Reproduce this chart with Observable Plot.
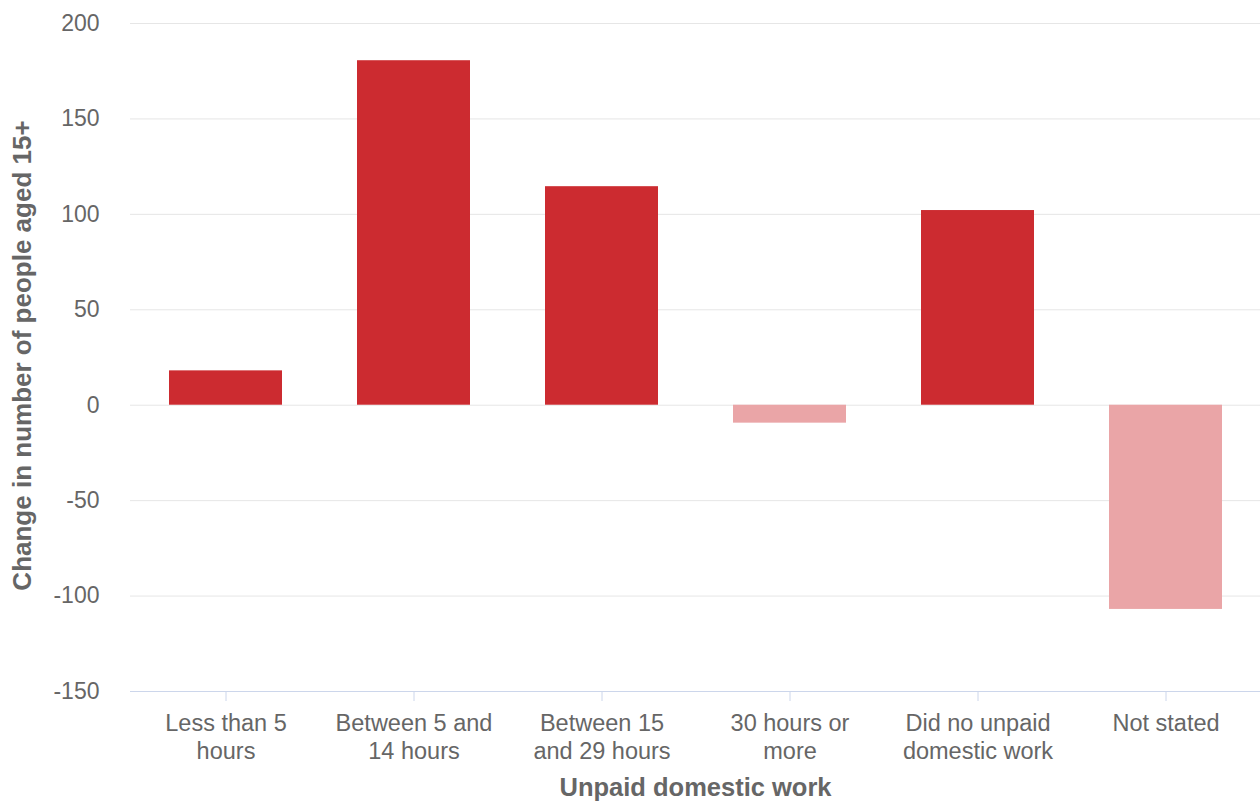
<!DOCTYPE html>
<html>
<head>
<meta charset="utf-8">
<script src="https://cdn.jsdelivr.net/npm/d3@7"></script>
<script src="https://cdn.jsdelivr.net/npm/@observablehq/plot@0.6"></script>
<style>
  html, body { margin: 0; padding: 0; background: #fff; }
  #chart svg { display: block; }
</style>
</head>
<body>
<div id="chart"></div>
<script>
const categories = [
  "Less than 5\nhours",
  "Between 5 and\n14 hours",
  "Between 15\nand 29 hours",
  "30 hours or\nmore",
  "Did no unpaid\ndomestic work",
  "Not stated"
];
const values = [18, 180.5, 114.5, -9.4, 102, -107];
const yTicks = [-150, -100, -50, 0, 50, 100, 150, 200];
const xTitle = "Unpaid domestic work";
const yTitle = "Change in number of people aged 15+";

const data = categories.map((c, i) => ({category: c, value: values[i]}));
const font = "'Liberation Sans', Arial, Helvetica, sans-serif";

const chart = Plot.plot({
  width: 1260,
  height: 802,
  marginLeft: 130,
  marginRight: 0,
  marginTop: 23,
  marginBottom: 111,
  style: {fontFamily: font, background: "#fff"},
  x: {domain: categories, paddingInner: 0.4, paddingOuter: 0.2, label: null},
  y: {domain: [-150, 200], label: null},
  marks: [
    Plot.ruleY(yTicks.filter(d => d > -150), {stroke: "#e6e6e6", strokeWidth: 1}),
    Plot.barY(data, {
      x: "category",
      y: "value",
      fill: d => d.value >= 0 ? "#cc2b30" : "#eaa5a7"
    }),
    Plot.ruleY([-150], {stroke: "#ccd6eb", strokeWidth: 1}),
    Plot.axisX({
      tickSize: 10,
      tickPadding: 9,
      stroke: "#ccd6eb",
      fill: "#666666",
      fontSize: 23.5,
      lineHeight: 1.2,
      label: null,
      tickFormat: d => d
    }),
    Plot.axisY({
      ticks: yTicks,
      tickSize: 0,
      tickPadding: 31,
      fill: "#666666",
      fontSize: 23,
      label: null,
      tickFormat: d => String(d)
    }),
    Plot.text([xTitle], {
      text: d => d,
      frameAnchor: "bottom",
      dy: 104,
      fill: "#666666",
      fontSize: 25.5,
      fontWeight: "bold"
    }),
    Plot.text([yTitle], {
      text: d => d,
      frameAnchor: "left",
      textAnchor: "middle",
      dx: -108,
      dy: -2,
      rotate: -90,
      fill: "#666666",
      fontSize: 26,
      fontWeight: "bold"
    })
  ]
});
document.getElementById("chart").appendChild(chart);
</script>
</body>
</html>
